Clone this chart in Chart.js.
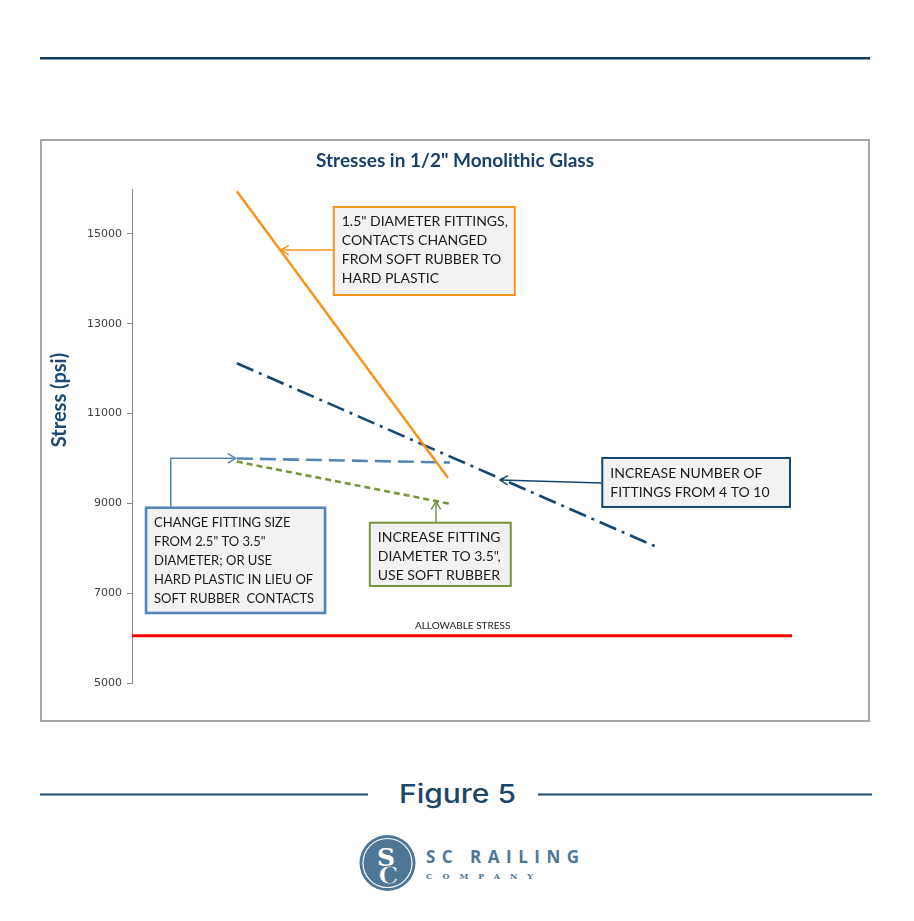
<!DOCTYPE html>
<html>
<head>
<meta charset="utf-8">
<script src="https://cdn.jsdelivr.net/npm/chart.js@4.4.1/dist/chart.umd.min.js"></script>
<style>
  html, body { margin: 0; padding: 0; background: #fff; }
  #page { position: relative; width: 914px; height: 921px; overflow: hidden; }
  #deco { position: absolute; left: 0; top: 0; }
  #chartBox {
    position: absolute; left: 40px; top: 139px; width: 830px; height: 583px;
    box-sizing: border-box; border: 2px solid #A6A6A6; background: #fff;
  }
</style>
</head>
<body>
<div id="page">
  <svg id="deco" width="914" height="921">
    <rect x="40" y="57" width="830" height="2.5" fill="#0E3F60"/>
    <line x1="40" y1="794.5" x2="368" y2="794.5" stroke="#1A4A6E" stroke-width="2"/>
    <line x1="538" y1="794.5" x2="872" y2="794.5" stroke="#1A4A6E" stroke-width="2"/>
    <text x="399" y="803" textLength="117" lengthAdjust="spacingAndGlyphs"
          font-family="Inter" font-weight="500" font-size="26" fill="#1B4668">Figure 5</text>
    <!-- logo -->
    <circle cx="387.5" cy="863" r="28" fill="#4E7696"/>
    <circle cx="387.5" cy="863" r="24.5" fill="none" stroke="#fff" stroke-width="1.2"/>
    <text x="386" y="866" text-anchor="middle" font-family="DejaVu Serif" font-weight="bold"
          font-size="25" fill="#fff">S</text>
    <text x="388.5" y="884" text-anchor="middle" font-family="DejaVu Serif" font-weight="bold"
          font-size="25" fill="#fff" stroke="#4E7696" stroke-width="0.8">C</text>
    <text x="426" y="863" textLength="153" lengthAdjust="spacing"
          font-family="Open Sans" font-weight="700" font-size="17" fill="#4E7696">SC RAILING</text>
    <text x="426" y="879" textLength="107" lengthAdjust="spacing"
          font-family="DejaVu Serif" font-weight="bold" font-size="8" fill="#4E7696">COMPANY</text>
  </svg>
  <div id="chartBox"><canvas id="stressChart"></canvas></div>
</div>

<script>
// 数据（横轴无刻度，按相对位置 0-100）
const chartTitle = 'Stresses in 1/2" Monolithic Glass';
const yTitle = 'Stress (psi)';
const yTicks = [5000, 7000, 9000, 11000, 13000, 15000];

const hardPlasticX = [15.7, 47.3];
const hardPlasticY = [15950, 9570];

const moreFittingsX = [15.7, 79.0];
const moreFittingsY = [12120, 8000];

const largerFittingX = [15.7, 47.6];
const largerFittingY = [10000, 9910];

const softRubberX = [15.7, 47.6];
const softRubberY = [9930, 8990];

const allowableX = [0, 98.8];
const allowableY = [6050, 6050];

const allowableLabel = 'ALLOWABLE STRESS';

// 标注文字
const noteHardPlastic = ['1.5" DIAMETER FITTINGS,', 'CONTACTS CHANGED', 'FROM SOFT RUBBER TO', 'HARD PLASTIC'];
const noteMoreFittings = ['INCREASE NUMBER OF', 'FITTINGS FROM 4 TO 10'];
const noteLargerFitting = ['CHANGE FITTING SIZE', 'FROM 2.5" TO 3.5"', 'DIAMETER; OR USE', 'HARD PLASTIC IN LIEU OF', 'SOFT RUBBER  CONTACTS'];
const noteSoftRubber = ['INCREASE FITTING', 'DIAMETER TO 3.5",', 'USE SOFT RUBBER'];

// 组合成点
function toPoints(xs, ys) {
  return xs.map((x, i) => ({ x: x, y: ys[i] }));
}

// 标注框（数据坐标）
const callouts = [
  { lines: noteHardPlastic, color: '#F7941D', border: 2, fontSize: 14,
    box: [30.2, 15600, 57.3, 13640], path: [[30.2, 14640], [22.3, 14640]] },
  { lines: noteMoreFittings, color: '#17476E', border: 2, fontSize: 14,
    box: [70.4, 10010, 98.5, 8920], path: [[70.3, 9453], [55.1, 9520]] },
  { lines: noteLargerFitting, color: '#5585B5', border: 2.6, fontSize: 13,
    box: [2.1, 8903, 28.9, 6559], path: [[5.8, 8903], [5.8, 10003], [15.5, 10003]] },
  { lines: noteSoftRubber, color: '#77953B', border: 2, fontSize: 14,
    box: [35.6, 8569, 56.7, 7160], path: [[45.5, 8569], [45.5, 9037]] }
];

// 自定义绘制：标题、轴标题、标注
const calloutPlugin = {
  id: 'callouts',
  afterDatasetsDraw(chart) {
    const ctx = chart.ctx;
    const xs = chart.scales.x;
    const ys = chart.scales.y;
    const px = v => xs.getPixelForValue(v);
    const py = v => ys.getPixelForValue(v);

    ctx.save();

    // 允许应力文字
    ctx.fillStyle = '#1a1a1a';
    ctx.font = '10px Lato';
    ctx.textAlign = 'center';
    ctx.textBaseline = 'middle';
    ctx.fillText(allowableLabel, px(49.5), py(6269));

    callouts.forEach(c => {
      // 连接线
      ctx.strokeStyle = c.color;
      ctx.lineWidth = 1.5;
      ctx.setLineDash([]);
      ctx.beginPath();
      c.path.forEach((p, i) => {
        if (i === 0) ctx.moveTo(px(p[0]), py(p[1]));
        else ctx.lineTo(px(p[0]), py(p[1]));
      });
      ctx.stroke();

      // 箭头
      const n = c.path.length;
      const tx = px(c.path[n - 1][0]), ty = py(c.path[n - 1][1]);
      const sx = px(c.path[n - 2][0]), sy = py(c.path[n - 2][1]);
      const ang = Math.atan2(ty - sy, tx - sx);
      ctx.beginPath();
      ctx.moveTo(tx - 9 * Math.cos(ang - 0.55), ty - 9 * Math.sin(ang - 0.55));
      ctx.lineTo(tx, ty);
      ctx.lineTo(tx - 9 * Math.cos(ang + 0.55), ty - 9 * Math.sin(ang + 0.55));
      ctx.stroke();

      // 框
      const x1 = px(c.box[0]), y1 = py(c.box[1]);
      const x2 = px(c.box[2]), y2 = py(c.box[3]);
      ctx.fillStyle = '#F2F2F2';
      ctx.fillRect(x1, y1, x2 - x1, y2 - y1);
      ctx.lineWidth = c.border;
      ctx.strokeRect(x1, y1, x2 - x1, y2 - y1);

      // 文字
      ctx.fillStyle = '#1a1a1a';
      ctx.font = c.fontSize + 'px Lato';
      ctx.textAlign = 'left';
      ctx.textBaseline = 'middle';
      c.lines.forEach((t, i) => ctx.fillText(t, x1 + 8, y1 + 15 + i * 19));
    });

    ctx.restore();
  },
  afterDraw(chart) {
    const ctx = chart.ctx;
    ctx.save();
    // 图表标题
    ctx.fillStyle = '#17406A';
    ctx.font = 'bold 19px Lato';
    ctx.textAlign = 'center';
    ctx.textBaseline = 'middle';
    ctx.fillText(chartTitle, chart.width / 2, 20);

    // Y 轴标题
    ctx.translate(18, 259);
    ctx.rotate(-Math.PI / 2);
    ctx.fillStyle = '#1C4A72';
    ctx.font = 'bold 20px Lato';
    ctx.fillText(yTitle, 0, 0);
    ctx.restore();
  }
};

const ctx = document.getElementById('stressChart').getContext('2d');

new Chart(ctx, {
  type: 'line',
  data: {
    datasets: [
      {
        label: 'Hard plastic contacts',
        data: toPoints(hardPlasticX, hardPlasticY),
        borderColor: '#F7941D',
        borderWidth: 2.5
      },
      {
        label: 'More fittings',
        data: toPoints(moreFittingsX, moreFittingsY),
        borderColor: '#17476E',
        borderWidth: 2.6,
        borderDash: [18, 6, 3, 6]
      },
      {
        label: 'Larger fitting',
        data: toPoints(largerFittingX, largerFittingY),
        borderColor: '#5585B5',
        borderWidth: 2.6,
        borderDash: [16, 7]
      },
      {
        label: 'Soft rubber',
        data: toPoints(softRubberX, softRubberY),
        borderColor: '#77953B',
        borderWidth: 2.6,
        borderDash: [6, 4]
      },
      {
        label: 'Allowable stress',
        data: toPoints(allowableX, allowableY),
        borderColor: '#FF0000',
        borderWidth: 3
      }
    ]
  },
  options: {
    responsive: true,
    maintainAspectRatio: false,
    animation: false,
    elements: {
      point: { radius: 0, hoverRadius: 0 },
      line: { tension: 0 }
    },
    layout: {
      padding: { top: 48, right: 68, bottom: 37, left: 0 }
    },
    plugins: {
      legend: { display: false },
      title: { display: false },
      tooltip: { enabled: false }
    },
    scales: {
      x: {
        type: 'linear',
        min: 0,
        max: 100,
        display: false
      },
      y: {
        type: 'linear',
        min: 5000,
        max: 16000,
        afterBuildTicks: scale => {
          scale.ticks = yTicks.map(v => ({ value: v }));
        },
        afterFit: scale => {
          scale.width = 90;
        },
        ticks: {
          color: '#404040',
          padding: 5,
          font: { family: 'DejaVu Sans', size: 11 },
          callback: value => String(value)
        },
        grid: {
          drawOnChartArea: false,
          drawTicks: true,
          tickLength: 5,
          color: '#888888'
        },
        border: {
          display: true,
          color: '#888888',
          width: 1
        }
      }
    }
  },
  plugins: [calloutPlugin]
});
</script>
</body>
</html>
